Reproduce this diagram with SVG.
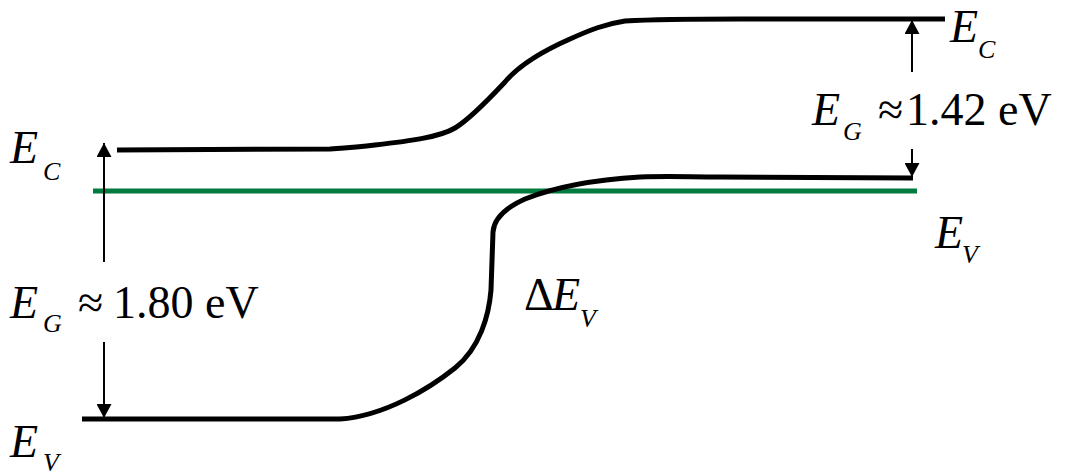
<svg xmlns="http://www.w3.org/2000/svg" width="1067" height="474" viewBox="0 0 1067 474">
<style>
.band{fill:none;stroke:#000;stroke-width:5;stroke-linecap:butt;stroke-linejoin:round}
.fermi{fill:none;stroke:#007A3D;stroke-width:5}
.arr{fill:none;stroke:#000;stroke-width:2}
text{font-family:"Liberation Serif","Times New Roman",serif;fill:#000}
.m{font-size:46px}
.i{font-style:italic}
.s{font-size:26px;font-style:italic}
</style>
<defs>
<marker id="ah" viewBox="0 0 14 14" refX="14" refY="7" markerWidth="14" markerHeight="15" markerUnits="userSpaceOnUse" orient="auto" preserveAspectRatio="none">
<path d="M0,0 L14,7 L0,14 z" fill="#000"/>
</marker>
</defs>
<rect width="1067" height="474" fill="#fff"/>
<g id="fermi-level"><line class="fermi" x1="93" y1="191" x2="917" y2="191"/></g>
<g id="conduction-band"><path class="band" d="M117,150 L330,149 C345,148 360,147 375,145 C410,141 440,137 455,128 C470,119 490,98 505,82 C520,64 545,50 570,39 C590,30 605,24 625,21 C660,19 700,19 740,19 L945,19"/></g>
<g id="valence-band"><path class="band" d="M82,419 L340,419 C385,416 430,388 455,368 C480,348 489,315 491,290 L493,232 C494,218 505,208 525,199 C555,187 590,180 640,177 C670,176 690,177 720,177 L913,178"/></g>
<g id="connectors">
<line class="arr" x1="104" y1="262" x2="104" y2="143" marker-end="url(#ah)"/>
<line class="arr" x1="104" y1="342" x2="104" y2="418" marker-end="url(#ah)"/>
<line class="arr" x1="912" y1="72" x2="912" y2="20" marker-end="url(#ah)"/>
<line class="arr" x1="912" y1="149" x2="912" y2="177" marker-end="url(#ah)"/>
</g>
<g id="label-ec-left"><text class="m i" x="10" y="163">E</text><text class="s" x="43" y="180">C</text></g>
<g id="label-eg-left"><text class="m i" x="10" y="318">E</text><text class="s" x="43" y="332">G</text><text class="m" x="78" y="318">≈</text><text class="m" x="113" y="318">1.80 eV</text></g>
<g id="label-ev-left"><text class="m i" x="10" y="457">E</text><text class="s" x="43" y="471">V</text></g>
<g id="label-ec-right"><text class="m i" x="950" y="42">E</text><text class="s" x="978" y="58">C</text></g>
<g id="label-eg-right"><text class="m i" x="812" y="125">E</text><text class="s" x="843" y="140">G</text><text class="m" x="878" y="125">≈</text><text class="m" x="906" y="125">1.42 eV</text></g>
<g id="label-ev-right"><text class="m i" x="935" y="248">E</text><text class="s" x="962" y="263">V</text></g>
<g id="label-dev"><text class="m" x="524" y="310">Δ</text><text class="m i" x="552" y="310">E</text><text class="s" x="580" y="327">V</text></g>
</svg>
